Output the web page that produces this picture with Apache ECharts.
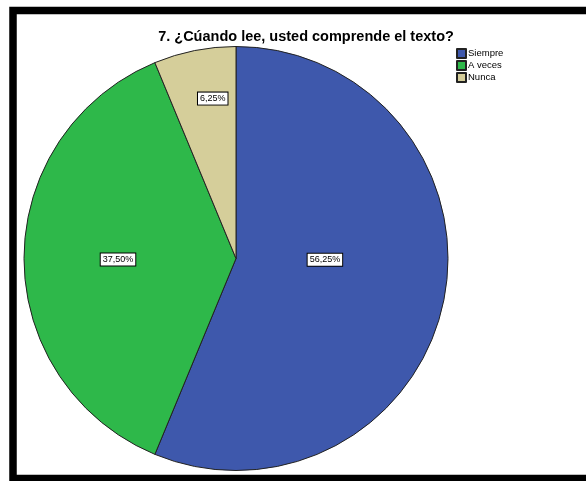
<!DOCTYPE html>
<html>
<head>
<meta charset="utf-8">
<script src="https://cdn.jsdelivr.net/npm/echarts@6/dist/echarts.min.js"></script>
<style>
html,body{margin:0;padding:0;background:#fff;}
#main{width:586px;height:481px;}
</style>
</head>
<body>
<div id="main"></div>
<script>
var categories = ['Siempre', 'A veces', 'Nunca'];
var values = [56.25, 37.50, 6.25];
var colors = ['#3E58AC', '#2EB84A', '#D5CE9A'];
var labelOffsets = [[-18, -20], [-9, 1], [-2, -53]];
var titleText = '7. ¿Cúando lee, usted comprende el texto?';

var chart = echarts.init(document.getElementById('main'), null, {renderer: 'canvas'});
var data = categories.map(function (c, i) {
  return {
    name: c,
    value: values[i],
    itemStyle: {color: colors[i]},
    label: {offset: labelOffsets[i]}
  };
});
chart.setOption({
  backgroundColor: '#fff',
  animation: false,
  title: {
    text: titleText,
    left: 301,
    textAlign: 'center',
    top: 24,
    textStyle: {fontFamily: 'Liberation Sans', fontSize: 14.5, fontWeight: 'bold', color: '#000'}
  },
  legend: {
    orient: 'vertical',
    left: 451,
    top: 43,
    itemWidth: 9,
    itemHeight: 9,
    itemGap: 1,
    icon: 'rect',
    data: categories,
    textStyle: {fontFamily: 'Liberation Sans', fontSize: 9.5, color: '#000', padding: [0, 0, 0, -3]}
  },
  graphic: [{
    type: 'rect',
    silent: true,
    z: 100,
    shape: {x: 13, y: 10.5, width: 640, height: 468},
    style: {fill: 'none', stroke: '#000', lineWidth: 7.5}
  }],
  series: [{
    type: 'pie',
    center: [236, 258.5],
    radius: [0, 212],
    startAngle: 90,
    clockwise: true,
    avoidLabelOverlap: false,
    itemStyle: {borderColor: '#222', borderWidth: 1},
    emphasis: {disabled: true},
    label: {
      show: true,
      position: 'inside',
      formatter: function (p) { return p.value.toFixed(2).replace('.', ',') + '%'; },
      fontFamily: 'Liberation Sans',
      fontSize: 9,
      color: '#000',
      backgroundColor: '#fff',
      borderColor: '#000',
      borderWidth: 1,
      padding: [2, 2, 1, 2]
    },
    labelLine: {show: false},
    data: data
  }]
});
</script>
</body>
</html>
